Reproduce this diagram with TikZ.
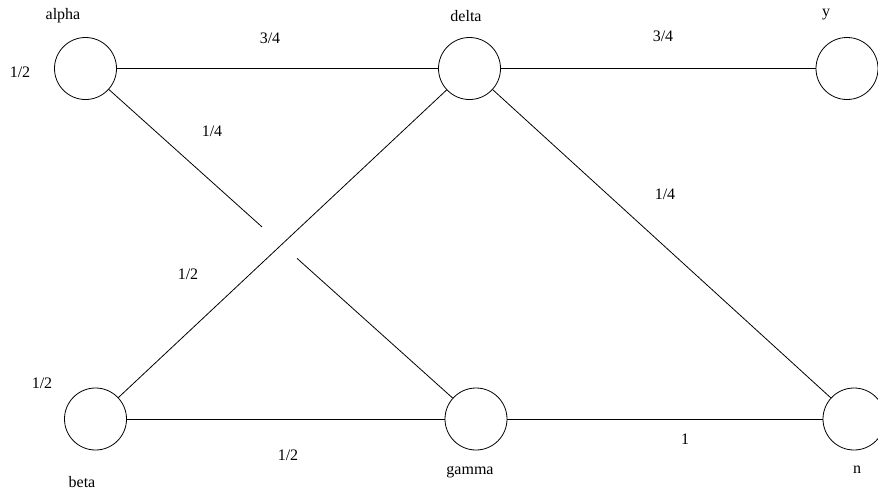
\documentclass[tikz,border=0pt]{standalone}
\usepackage{fontspec}
\setmainfont{Liberation Serif}
\usetikzlibrary{calc}
\begin{document}
\begin{tikzpicture}[x=1pt,y=-1pt,
  state/.style={draw,circle,minimum size=62pt,inner sep=0pt,line width=0.8pt},
  edge/.style={draw,line width=0.8pt},
  lbl/.style={inner sep=0pt,font=\fontsize{16}{18}\selectfont}]
\useasboundingbox (0,0) rectangle (878,490);
\node[state] (alpha) at (85.5,68.5) {};
\node[state] (delta) at (469.5,68.5) {};
\node[state] (y) at (847,68.5) {};
\node[state] (beta) at (95.5,419) {};
\node[state] (gamma) at (476,419) {};
\node[state] (n) at (854,419) {};
% labels
\node[lbl] (lalpha) at (63,16) {alpha};
\node[lbl] (ldelta) at (466,16) {delta};
\node[lbl] (ly) at (826,15) {y};
\node[lbl] (lbeta) at (82,482) {beta};
\node[lbl] (lgamma) at (470,472) {gamma};
\node[lbl] (ln) at (857,470) {n};
\node[lbl] (pa) at (20,72) {1/2};
\node[lbl] (pb) at (42,383) {1/2};
\node[lbl] (wad) at (270,38) {3/4};
\node[lbl] (wdy) at (663,36) {3/4};
\node[lbl] (wag) at (212,131) {1/4};
\node[lbl] (wdn) at (665,194) {1/4};
\node[lbl] (wbd) at (188,274) {1/2};
\node[lbl] (wbg) at (288,455) {1/2};
\node[lbl] (wgn) at (685,439) {1};
% edges
\draw[edge] (alpha) -- (delta);
\draw[edge] (delta) -- (y);
\draw[edge] (delta) -- (n);
\draw[edge] (beta) -- (delta);
\draw[edge] (beta) -- (gamma);
\draw[edge] (gamma) -- (n);
\coordinate (g1) at ($(alpha)!0.452!(gamma)$);
\coordinate (g2) at ($(alpha)!0.542!(gamma)$);
\draw[edge] (alpha) -- (g1);
\draw[edge] (g2) -- (gamma);
\end{tikzpicture}
\end{document}
